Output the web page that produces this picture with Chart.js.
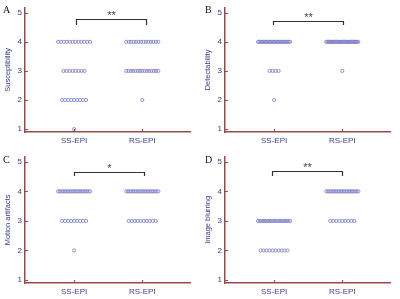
<!DOCTYPE html>
<html>
<head>
<meta charset="utf-8">
<script src="https://cdn.jsdelivr.net/npm/chart.js@4.4.1/dist/chart.umd.min.js"></script>
<style>
  html, body { margin: 0; padding: 0; background: #fff; }
  #wrap { position: relative; width: 400px; height: 299px; overflow: hidden; }
  .panel { position: absolute; }
</style>
</head>
<body>
<div id="wrap">
  <div class="panel" style="left:0;top:0;width:200px;height:149px"><canvas id="c0" width="200" height="149"></canvas></div>
  <div class="panel" style="left:200px;top:0;width:200px;height:149px"><canvas id="c1" width="200" height="149"></canvas></div>
  <div class="panel" style="left:0;top:149px;width:200px;height:150px"><canvas id="c2" width="200" height="150"></canvas></div>
  <div class="panel" style="left:200px;top:149px;width:200px;height:150px"><canvas id="c3" width="200" height="150"></canvas></div>
</div>
<script>
// ---- data ----
const groups = ['SS-EPI', 'RS-EPI'];
const yTicks = [1, 2, 3, 4, 5];
const panelLetters = ['A', 'B', 'C', 'D'];
const yTitles = ['Susceptibility', 'Detectability', 'Motion artifacts', 'Image blurring'];
// number of patients per score (index 0 -> score 1, ... index 3 -> score 4)
const ssCounts = [
  [1, 9, 8, 12],
  [0, 1, 4, 25],
  [0, 1, 9, 20],
  [0, 10, 20, 0]
];
const rsCounts = [
  [0, 1, 15, 14],
  [0, 0, 1, 29],
  [0, 0, 10, 20],
  [0, 0, 9, 21]
];
const stars = ['**', '**', '*', '**'];
const bracketLeft = [1.03, 0.99, 1.0, 0.97];
const bracketRight = [2.06, 2.01, 2.03, 1.99];
const bracketTop = [4.78, 4.72, 4.65, 4.69];
const bracketLeg = [4.57, 4.57, 4.52, 4.53];

// ---- styling ----
const AXIS = '#9a4848';
const TXT = '#3c3c8c';
const PT = '#7a7ac8';

function spread(center, counts) {
  const pts = [];
  const base = 0.044, maxSpan = 0.47;
  counts.forEach((n, i) => {
    const score = i + 1;
    if (n <= 0) return;
    const step = n > 1 ? Math.min(base, maxSpan / (n - 1)) : 0;
    for (let k = 0; k < n; k++) {
      pts.push({ x: center + (k - (n - 1) / 2) * step, y: score });
    }
  });
  return pts;
}

function makePlugin(i) {
  return {
    id: 'panelDeco' + i,
    afterDraw(chart) {
      const ctx = chart.ctx;
      const x = chart.scales.x, y = chart.scales.y;
      ctx.save();
      // inner ticks
      ctx.strokeStyle = AXIS;
      ctx.lineWidth = 1;
      yTicks.forEach(v => {
        const py = Math.round(y.getPixelForValue(v)) + 0.5;
        ctx.beginPath();
        ctx.moveTo(x.left, py);
        ctx.lineTo(x.left + 3, py);
        ctx.stroke();
      });
      [1, 2].forEach(v => {
        const px = Math.round(x.getPixelForValue(v)) + 0.5;
        ctx.beginPath();
        ctx.moveTo(px, y.bottom);
        ctx.lineTo(px, y.bottom - 3);
        ctx.stroke();
      });
      // bracket
      const xl = Math.round(x.getPixelForValue(bracketLeft[i])) + 0.5;
      const xr = Math.round(x.getPixelForValue(bracketRight[i])) + 0.5;
      const yt = Math.round(y.getPixelForValue(bracketTop[i])) + 0.5;
      const yl = Math.round(y.getPixelForValue(bracketLeg[i]));
      ctx.strokeStyle = '#333333';
      ctx.lineWidth = 1.2;
      ctx.beginPath();
      ctx.moveTo(xl, yl);
      ctx.lineTo(xl, yt);
      ctx.lineTo(xr, yt);
      ctx.lineTo(xr, yl);
      ctx.stroke();
      // stars
      ctx.fillStyle = '#444444';
      ctx.font = '11px "Liberation Sans", Arial, sans-serif';
      ctx.textAlign = 'center';
      ctx.textBaseline = 'bottom';
      ctx.fillText(stars[i], (xl + xr) / 2, yt + 1.5);
      // letter
      ctx.fillStyle = '#111111';
      ctx.font = '10px "Liberation Serif", "Times New Roman", serif';
      ctx.textAlign = 'left';
      ctx.textBaseline = 'middle';
      ctx.fillText(panelLetters[i], i % 2 === 0 ? 3 : 5, i < 2 ? 10 : 11);
      ctx.restore();
    }
  };
}

for (let i = 0; i < 4; i++) {
  const top = i < 2;
  const data = spread(1, ssCounts[i]).concat(spread(2, rsCounts[i]));
  new Chart(document.getElementById('c' + i), {
    type: 'scatter',
    data: {
      datasets: [{
        data: data,
        pointStyle: 'circle',
        pointRadius: 1.6,
        pointBorderWidth: 0.8,
        borderColor: PT,
        backgroundColor: 'rgba(0,0,0,0)',
        pointBackgroundColor: 'rgba(0,0,0,0)',
        clip: false
      }]
    },
    options: {
      responsive: false,
      animation: false,
      devicePixelRatio: 1,
      layout: { padding: { left: 0, right: 10, top: top ? 5 : 6, bottom: 0 } },
      plugins: { legend: { display: false }, tooltip: { enabled: false }, title: { display: false } },
      scales: {
        x: {
          type: 'linear',
          min: 0.28, max: 2.7,
          grid: { display: false, drawTicks: false },
          border: { display: true, color: AXIS, width: 1.5 },
          afterBuildTicks: s => { s.ticks = [{ value: 1 }, { value: 2 }]; },
          afterFit: s => { s.height = top ? 17 : 16; },
          ticks: {
            autoSkip: false,
            maxRotation: 0,
            padding: 4,
            color: TXT,
            font: { family: '"Liberation Sans", Arial, sans-serif', size: 8 },
            callback: v => groups[v - 1]
          }
        },
        y: {
          type: 'linear',
          min: 0.9, max: 5.17,
          grid: { display: false, drawTicks: false },
          border: { display: true, color: AXIS, width: 1.5 },
          afterBuildTicks: s => { s.ticks = yTicks.map(v => ({ value: v })); },
          afterFit: s => { s.width = 25; },
          ticks: {
            padding: 3,
            color: TXT,
            font: { family: '"Liberation Sans", Arial, sans-serif', size: 8 }
          },
          title: {
            display: true,
            text: yTitles[i],
            color: TXT,
            padding: { top: 3, bottom: 0 },
            font: { family: '"Liberation Sans", Arial, sans-serif', size: 7.5 }
          }
        }
      }
    },
    plugins: [makePlugin(i)]
  });
}
</script>
</body>
</html>
